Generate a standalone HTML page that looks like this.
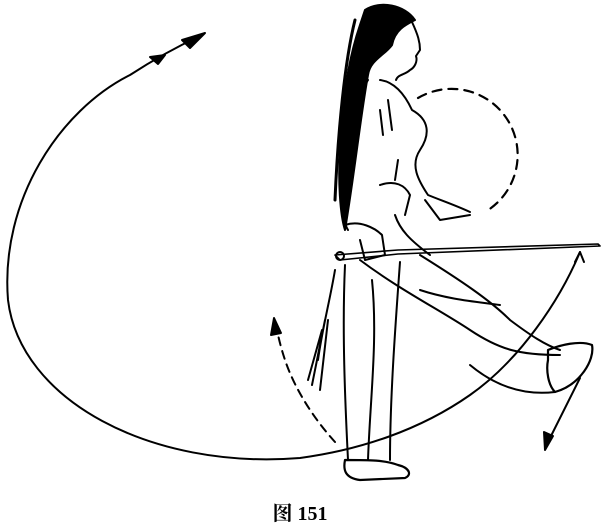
<!DOCTYPE html>
<html><head><meta charset="utf-8"><style>
html,body{margin:0;padding:0;background:#fff;width:601px;height:528px;overflow:hidden}
svg{display:block}
</style></head><body>
<svg width="601" height="528" viewBox="0 0 601 528" xmlns="http://www.w3.org/2000/svg">
<g fill="none" stroke="#000" stroke-width="2" stroke-linecap="round" stroke-linejoin="round">
<!-- big arrow curve -->
<path d="M580,252 C560,300 520,360 470,395 C420,430 360,450 300,458 C150,470 20,400 8,300 C0,200 60,110 130,75 C150,62 170,50 200,36"/>
<path d="M205,33 L182,40 L190,48 Z" fill="#000"/>
<path d="M165,55 L150,57 L158,64 Z" fill="#000"/>
<!-- dashed circle -->
<path d="M418,98 A56,56 0 1 1 485,212" stroke-dasharray="9,7" stroke-width="2.2"/>
<!-- sword -->
<path d="M335,255 L398,250 L598,244 L600,246 L398,254 L340,260 Z" stroke-width="1.6"/>
<circle cx="340" cy="256" r="4"/>
<!-- hair -->
<path d="M365,10 C380,0 405,5 415,20 C405,25 395,30 392,45 C385,55 370,60 368,75 C360,120 355,170 345,230 C340,215 338,180 340,150 C342,100 348,60 360,25 Z" fill="#000"/>
<path d="M355,20 C345,60 338,130 335,200" stroke-width="3"/>
<!-- face -->
<path d="M412,22 C418,35 420,42 420,50 L416,56 C418,62 414,68 410,70 C405,75 398,74 396,80"/>
<!-- body -->
<path d="M380,80 C395,82 405,95 412,110 C430,120 430,135 420,150 C410,165 418,180 428,195 C440,200 455,205 470,212"/>
<path d="M425,200 L440,220 L470,215"/>
<path d="M368,80 C355,100 345,140 342,180 C340,200 342,220 348,230"/>
<path d="M345,225 C360,220 375,228 382,235 L385,255 L365,260 L360,240"/>
<path d="M380,185 C395,180 405,185 410,195 L405,215"/>
<path d="M395,215 C400,230 410,240 430,255"/>
<path d="M388,100 L392,130 M380,110 L383,135 M398,160 L395,180"/>
<!-- front leg -->
<path d="M360,260 C400,290 440,310 470,330 C500,350 520,355 560,355"/>
<path d="M420,255 C460,280 490,300 510,320 C530,335 545,345 560,350"/>
<path d="M470,365 C500,390 530,395 555,392"/>
<path d="M420,290 C450,300 480,302 500,305"/>
<path d="M548,350 C560,345 580,340 592,345 C595,360 580,385 555,392 C548,385 546,370 548,360 Z" stroke-width="2.2"/>
<!-- back leg -->
<path d="M345,265 C342,330 345,400 348,460"/>
<path d="M400,262 C395,330 390,400 390,460"/>
<path d="M372,280 C378,340 370,400 368,460"/>
<path d="M345,460 C343,470 345,478 360,480 L405,478 C412,475 410,468 398,465 C385,460 370,460 345,460 Z" stroke-width="2.2"/>
<!-- tassel -->
<path d="M335,270 C330,300 322,330 318,360 M325,320 L312,385 M328,320 L320,390 M322,330 L308,380"/>
<!-- down arrow -->
<path d="M580,378 L548,442"/>
<path d="M545,450 L544,432 L553,436 Z" fill="#000"/>
<!-- dashed arrow -->
<path d="M335,442 C315,420 295,390 285,360 C280,345 278,335 276,325" stroke-dasharray="8,6"/>
<path d="M274,318 L271,335 L281,333 Z" fill="#000"/>
<path d="M580,252 L575,262 M580,252 L584,262"/>
</g>
<text x="300" y="520" text-anchor="middle" font-family="'Liberation Serif','Noto Serif CJK SC',serif" font-size="20" font-weight="bold" fill="#000">图 151</text>
</svg>
</body></html>
